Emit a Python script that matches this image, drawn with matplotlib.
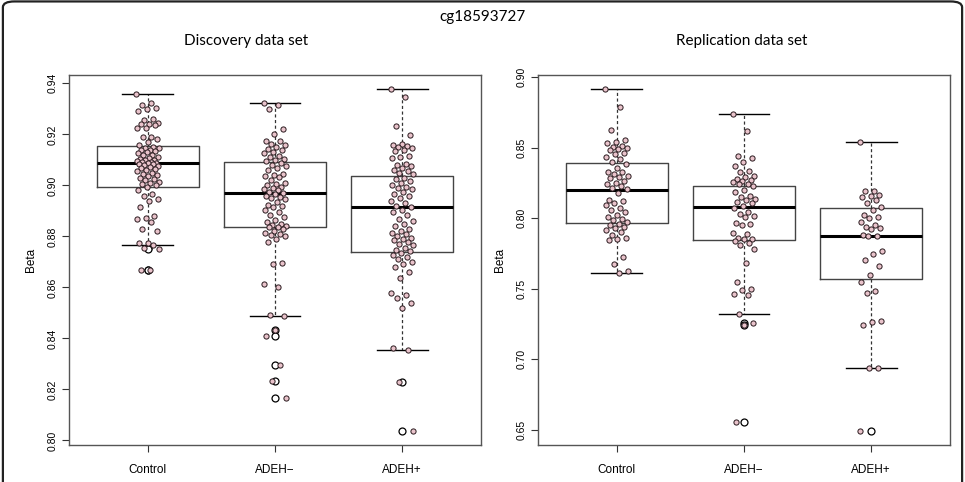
import matplotlib.pyplot as plt
from matplotlib.patches import FancyBboxPatch

# group labels
groups = ["Control", "ADEH\u2212", "ADEH+"]

# Discovery data set, beta values
disc_control = [0.9360, 0.9321, 0.9314, 0.9304, 0.9299, 0.9291, 0.9262, 0.9255, 0.9245, 0.9242,
                0.9240, 0.9238, 0.9223, 0.9223, 0.9190, 0.9190, 0.9183, 0.9170, 0.9160, 0.9150,
                0.9148, 0.9145, 0.9140, 0.9138, 0.9135, 0.9130, 0.9125, 0.9120, 0.9118, 0.9112,
                0.9108, 0.9105, 0.9100, 0.9098, 0.9095, 0.9092, 0.9090, 0.9088, 0.9087, 0.9085,
                0.9082, 0.9080, 0.9076, 0.9072, 0.9068, 0.9065, 0.9060, 0.9055, 0.9050, 0.9045,
                0.9040, 0.9036, 0.9030, 0.9025, 0.9020, 0.9015, 0.9010, 0.9005, 0.9000, 0.8995,
                0.8980, 0.8966, 0.8960, 0.8947, 0.8940, 0.8915, 0.8881, 0.8874, 0.8868, 0.8856,
                0.8828, 0.8822, 0.8776, 0.8776, 0.8765, 0.8756, 0.8752, 0.8670, 0.8670]
disc_adeh_neg = [0.9322, 0.9317, 0.9301, 0.9220, 0.9200, 0.9174, 0.9174, 0.9163, 0.9157, 0.9150,
                 0.9144, 0.9137, 0.9130, 0.9125, 0.9117, 0.9110, 0.9105, 0.9100, 0.9095, 0.9088,
                 0.9080, 0.9075, 0.9070, 0.9062, 0.9045, 0.9040, 0.9036, 0.9033, 0.9020, 0.9010,
                 0.9005, 0.9000, 0.8995, 0.8990, 0.8985, 0.8980, 0.8975, 0.8970, 0.8965, 0.8960,
                 0.8955, 0.8950, 0.8945, 0.8935, 0.8925, 0.8920, 0.8915, 0.8905, 0.8895, 0.8885,
                 0.8875, 0.8865, 0.8855, 0.8850, 0.8845, 0.8840, 0.8838, 0.8835, 0.8830, 0.8822,
                 0.8815, 0.8810, 0.8805, 0.8800, 0.8790, 0.8777, 0.8697, 0.8691, 0.8615, 0.8600,
                 0.8491, 0.8486, 0.8434, 0.8408, 0.8297, 0.8234, 0.8168]
disc_adeh_pos = [0.9379, 0.9345, 0.9233, 0.9196, 0.9163, 0.9158, 0.9155, 0.9150, 0.9145, 0.9140,
                 0.9133, 0.9117, 0.9112, 0.9107, 0.9085, 0.9080, 0.9075, 0.9070, 0.9062, 0.9055,
                 0.9050, 0.9045, 0.9030, 0.9025, 0.9018, 0.9010, 0.9002, 0.8995, 0.8990, 0.8985,
                 0.8975, 0.8968, 0.8960, 0.8950, 0.8940, 0.8930, 0.8920, 0.8916, 0.8905, 0.8895,
                 0.8885, 0.8870, 0.8860, 0.8850, 0.8840, 0.8830, 0.8822, 0.8815, 0.8808, 0.8800,
                 0.8795, 0.8790, 0.8785, 0.8778, 0.8770, 0.8765, 0.8755, 0.8748, 0.8742, 0.8735,
                 0.8728, 0.8720, 0.8712, 0.8700, 0.8690, 0.8680, 0.8660, 0.8635, 0.8580, 0.8572,
                 0.8559, 0.8539, 0.8520, 0.8364, 0.8355, 0.8228, 0.8036]

# Replication data set
rep_control = [0.8918, 0.8790, 0.8626, 0.8556, 0.8540, 0.8530, 0.8515, 0.8505, 0.8500, 0.8490,
               0.8480, 0.8465, 0.8454, 0.8430, 0.8420, 0.8395, 0.8383, 0.8355, 0.8330, 0.8325,
               0.8310, 0.8300, 0.8290, 0.8283, 0.8264, 0.8250, 0.8240, 0.8225, 0.8215, 0.8205,
               0.8176, 0.8130, 0.8120, 0.8105, 0.8090, 0.8075, 0.8060, 0.8040, 0.8020, 0.8005,
               0.7995, 0.7986, 0.7975, 0.7960, 0.7950, 0.7940, 0.7930, 0.7915, 0.7900, 0.7880,
               0.7860, 0.7850, 0.7843, 0.7725, 0.7677, 0.7622, 0.7610]
rep_adeh_neg = [0.8740, 0.8616, 0.8438, 0.8425, 0.8400, 0.8367, 0.8335, 0.8325, 0.8300, 0.8290,
                0.8280, 0.8270, 0.8262, 0.8255, 0.8245, 0.8240, 0.8226, 0.8200, 0.8185, 0.8160,
                0.8150, 0.8135, 0.8125, 0.8115, 0.8105, 0.8085, 0.8070, 0.8040, 0.8030, 0.8015,
                0.8010, 0.7965, 0.7960, 0.7950, 0.7891, 0.7885, 0.7860, 0.7855, 0.7850, 0.7840,
                0.7825, 0.7812, 0.7784, 0.7680, 0.7550, 0.7500, 0.7490, 0.7463, 0.7456, 0.7318,
                0.7258, 0.7245, 0.6552]
rep_adeh_pos = [0.8538, 0.8193, 0.8190, 0.8165, 0.8160, 0.8150, 0.8125, 0.8110, 0.8081, 0.8057,
                0.8020, 0.8010, 0.8000, 0.7975, 0.7950, 0.7940, 0.7930, 0.7920, 0.7880, 0.7875,
                0.7870, 0.7765, 0.7745, 0.7700, 0.7660, 0.7594, 0.7546, 0.7480, 0.7470, 0.7273,
                0.7266, 0.7242, 0.6938, 0.6935, 0.6488]

# box statistics as drawn (lower whisker, Q1, median, Q3, upper whisker)
disc_lo = [0.8765, 0.8486, 0.8355]
disc_q1 = [0.8993, 0.8837, 0.8739]
disc_med = [0.9087, 0.8969, 0.8914]
disc_q3 = [0.9153, 0.9091, 0.9037]
disc_hi = [0.9360, 0.9322, 0.9379]

rep_lo = [0.7610, 0.7318, 0.6935]
rep_q1 = [0.7965, 0.7846, 0.7570]
rep_med = [0.8198, 0.8076, 0.7874]
rep_q3 = [0.8390, 0.8231, 0.8069]
rep_hi = [0.8918, 0.8740, 0.8538]

disc_ticks = [0.80, 0.82, 0.84, 0.86, 0.88, 0.90, 0.92, 0.94]
rep_ticks = [0.65, 0.70, 0.75, 0.80, 0.85, 0.90]

narrow = ["Liberation Sans Narrow", "Liberation Sans", "DejaVu Sans"]
title_font = ["Lato", "DejaVu Sans"]


def jitter(n, amount=0.09):
    # spread points sideways, R stripchart style
    return [((i * 0.6180339887) % 1.0 - 0.5) * 2 * amount for i in range(n)]


def draw_panel(ax, data, lo, q1, med, q3, hi, ticks):
    stats = []
    for i in range(len(data)):
        fl = [v for v in data[i] if v < lo[i] or v > hi[i]]
        stats.append(dict(whislo=lo[i], q1=q1[i], med=med[i], q3=q3[i],
                          whishi=hi[i], fliers=fl))
    ax.bxp(stats, positions=[1, 2, 3], widths=0.8, showfliers=True,
           boxprops=dict(color="#444444", linewidth=1.0),
           medianprops=dict(color="black", linewidth=2.2),
           whiskerprops=dict(color="#333333", linewidth=0.9, linestyle=(0, (2.5, 2))),
           capprops=dict(color="black", linewidth=1.0),
           capwidths=0.4,
           flierprops=dict(marker="o", markerfacecolor="white", markeredgecolor="black",
                           markersize=5, markeredgewidth=0.9))
    for i, vals in enumerate(data):
        xs = [i + 1 + d for d in jitter(len(vals))]
        ax.scatter(xs, vals, s=14, facecolor="#e9c3cb", edgecolor="#2a1a1e",
                   linewidths=0.7, zorder=3)
    lo_all = min(min(v) for v in data)
    hi_all = max(max(v) for v in data)
    pad = (hi_all - lo_all) * 0.04
    ax.set_ylim(lo_all - pad, hi_all + pad)
    ax.set_xlim(0.38, 3.62)
    ax.set_yticks(ticks)
    ax.set_yticklabels(["%.2f" % t for t in ticks], rotation=90, va="center",
                       family=narrow, fontsize=7.5)
    ax.set_xticks([1, 2, 3])
    ax.set_xticklabels(groups, family=narrow, fontsize=8.5)
    ax.tick_params(axis="both", direction="out", length=5, width=0.8, color="#333333")
    ax.tick_params(axis="x", pad=9)
    ax.tick_params(axis="y", pad=3)
    for s in ax.spines.values():
        s.set_color("#555555")
        s.set_linewidth(1.0)
    ax.set_ylabel("Beta", family=narrow, fontsize=8.5, labelpad=8)


fig = plt.figure(figsize=(9.65, 4.82), dpi=100)
ax1 = fig.add_axes([0.0715, 0.0768, 0.427, 0.7676])
ax2 = fig.add_axes([0.5575, 0.0768, 0.427, 0.7676])

draw_panel(ax1, [disc_control, disc_adeh_neg, disc_adeh_pos],
           disc_lo, disc_q1, disc_med, disc_q3, disc_hi, disc_ticks)
draw_panel(ax2, [rep_control, rep_adeh_neg, rep_adeh_pos],
           rep_lo, rep_q1, rep_med, rep_q3, rep_hi, rep_ticks)

fig.text(0.5, 1 - 17 / 482, "cg18593727", ha="center", va="center",
         family=title_font, fontsize=11)
fig.text(246 / 965, 1 - 41 / 482, "Discovery data set", ha="center", va="center",
         family=title_font, fontsize=11)
fig.text(742 / 965, 1 - 41 / 482, "Replication data set", ha="center", va="center",
         family=title_font, fontsize=11)

# rounded frame round the whole figure
frame = FancyBboxPatch((0.003, -0.05), 0.994, 1.047, transform=fig.transFigure,
                       boxstyle="round,pad=0,rounding_size=0.012",
                       facecolor="none", edgecolor="#222222", linewidth=1.6)
fig.patches.append(frame)

fig.savefig("out.png", dpi=100)
